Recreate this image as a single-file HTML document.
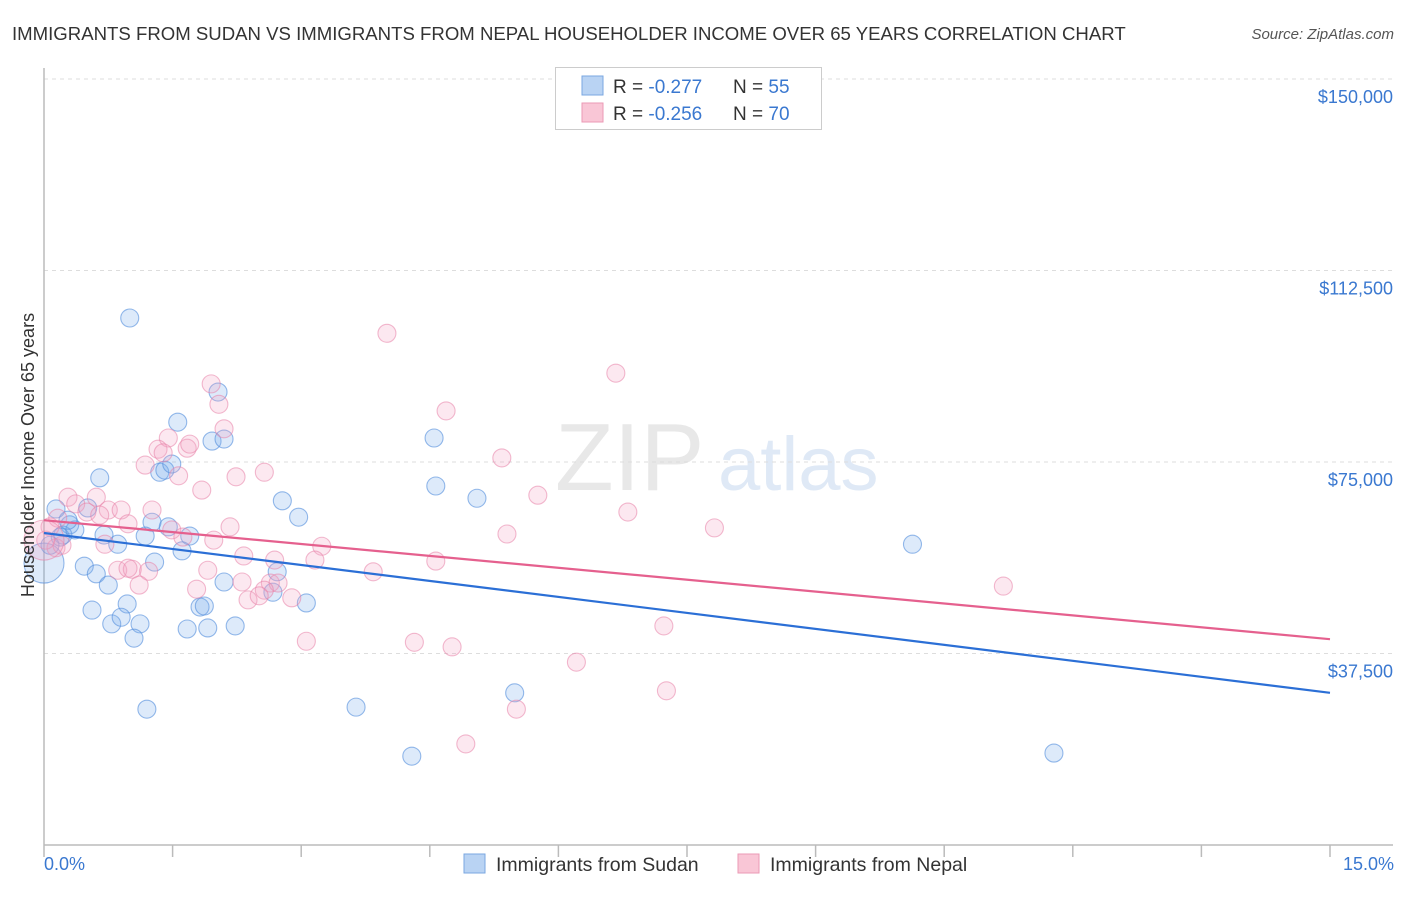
<!DOCTYPE html>
<html><head><meta charset="utf-8"><style>
body{margin:0;background:#fff;font-family:"Liberation Sans",sans-serif}
svg text{font-family:"Liberation Sans",sans-serif}
</style></head><body>
<svg id="chart" width="1406" height="892">
<text x="12" y="40" font-size="18.6" fill="#333">IMMIGRANTS FROM SUDAN VS IMMIGRANTS FROM NEPAL HOUSEHOLDER INCOME OVER 65 YEARS CORRELATION CHART</text>
<text x="1394" y="39" font-size="15" fill="#555" font-style="italic" text-anchor="end">Source: ZipAtlas.com</text>
<g><text x="555" y="490" font-size="96" font-family="Liberation Serif" fill="#e8e8e8">ZIP</text><text x="718" y="490" font-size="76" fill="#dfe9f6">atlas</text></g>
<g id="grid"></g><g id="axes"></g><g id="pts"></g><g id="lines"></g>
<text transform="translate(34,455) rotate(-90)" font-size="18" fill="#333" text-anchor="middle">Householder Income Over 65 years</text>
<text x="44" y="870" font-size="18" fill="#3a78d0">0.0%</text>
<text x="1394" y="870" font-size="18" fill="#3a78d0" text-anchor="end">15.0%</text>
<g>
<rect x="555.5" y="67.5" width="266" height="62" fill="#fff" stroke="#ccc"/>
<rect x="582" y="76" width="21" height="19" fill="#b9d3f3" stroke="#7aa7e0"/>
<rect x="582" y="103" width="21" height="19" fill="#f9c6d6" stroke="#eb9ab5"/>
<text x="613" y="93" font-size="19" fill="#333">R = <tspan fill="#3a78d0">-0.277</tspan><tspan x="733">N = </tspan><tspan fill="#3a78d0">55</tspan></text>
<text x="613" y="120" font-size="19" fill="#333">R = <tspan fill="#3a78d0">-0.256</tspan><tspan x="733">N = </tspan><tspan fill="#3a78d0">70</tspan></text>
</g>
<g>
<rect x="464" y="854" width="21" height="19" fill="#b9d3f3" stroke="#7aa7e0"/>
<text x="496" y="871" font-size="19.5" fill="#333">Immigrants from Sudan</text>
<rect x="738" y="854" width="21" height="19" fill="#f9c6d6" stroke="#eb9ab5"/>
<text x="770" y="871" font-size="19.5" fill="#333">Immigrants from Nepal</text>
</g>
</svg>
<script>
const yTicks=[37500,75000,112500,150000];
const yTickLabels=["$37,500","$75,000","$112,500","$150,000"];
const xTicks=[0,1.5,3,4.5,6,7.5,9,10.5,12,13.5,15];
const sudanX=[1.00,1.56,2.03,1.96,2.10,0.65,1.35,1.41,1.49,0.14,0.30,0.51,0.22,1.26,1.45,1.70,1.18,0.86,0.70,1.29,1.61,0.47,0.61,0.75,0.97,0.56,0.79,0.90,1.12,1.05,1.67,1.82,1.87,1.91,2.23,2.10,2.78,2.97,2.72,2.67,3.06,1.20,3.64,4.29,4.55,4.57,5.05,5.49,10.13,11.78,0,0.19,0.36,0.07,0.28];
const sudanY=[103.2,82.8,88.7,79.1,79.5,71.9,73.0,73.4,74.6,65.8,62.7,66.0,60.7,63.2,62.3,60.5,60.5,58.9,60.7,55.4,57.6,54.6,53.1,50.9,47.2,46.0,43.3,44.6,43.3,40.5,42.3,46.6,46.8,42.5,42.9,51.5,67.4,64.2,53.5,49.5,47.4,26.6,27.0,17.4,79.7,70.3,67.9,29.8,58.9,18.0,55.2,60.3,61.7,58.7,63.6];
const sudanBig=[50];
const nepalX=[4.00,6.67,4.69,1.95,2.04,2.10,1.45,1.33,1.39,1.67,1.70,1.18,1.57,1.84,2.24,2.57,5.34,5.76,6.81,7.82,5.40,11.19,0.28,0.61,0.37,0.50,0.75,0.90,0.98,1.26,1.49,1.62,1.98,2.17,0.65,0.16,0.07,0.14,0.21,0.02,0.71,0.86,1.03,0.98,1.22,1.11,1.78,1.91,2.33,2.69,3.24,3.16,3.84,4.57,2.31,2.64,2.73,2.57,2.38,2.51,2.89,3.06,4.32,4.76,6.21,7.23,7.26,4.92,5.51,0];
const nepalY=[100.2,92.4,85.0,90.3,86.3,81.5,79.7,77.5,76.8,77.7,78.5,74.4,72.3,69.5,72.1,73.0,75.8,68.5,65.2,62.1,60.9,50.7,68.1,68.1,66.8,65.2,65.6,65.6,62.9,65.6,61.7,60.3,59.7,62.3,64.6,64.0,62.3,58.2,58.7,59.7,58.9,53.8,54.0,54.2,53.6,50.9,50.1,53.8,56.6,55.8,58.5,55.8,53.5,55.6,51.5,51.3,51.3,49.9,48.0,48.8,48.4,39.9,39.7,38.8,35.8,42.9,30.2,19.8,26.6,59.7];
const nepalBig=[69];
const trendX=[0,15];
const sudanTrend=[61.1,29.8];
const nepalTrend=[63.6,40.3];
const X0=44,X1=1330,Y0=845,YPER=191.5/37500;
const sx=v=>X0+(X1-X0)*v/15;
const sy=v=>Y0-v*YPER;
const NS="http://www.w3.org/2000/svg";
function mk(tag,attrs,parent){const e=document.createElementNS(NS,tag);for(const k in attrs)e.setAttribute(k,attrs[k]);document.getElementById(parent).appendChild(e);return e;}
yTicks.forEach((t,i)=>{
 const l=mk('line',{x1:X0,x2:1393,y1:sy(t),y2:sy(t),stroke:'#ddd','stroke-dasharray':'4,4'},'grid');
 
 
 const tx=mk('text',{x:1393,y:sy(t)+24,'font-size':18,fill:'#3a78d0','text-anchor':'end'},'grid');
 tx.textContent=yTickLabels[i];
 
 
});
const ax=mk('line',{x1:X0,x2:X0,y1:68,y2:Y0,stroke:'#bbb','stroke-width':1.5},'axes');


const bx=mk('line',{x1:X0,x2:1393,y1:Y0,y2:Y0,stroke:'#bbb','stroke-width':1.5},'axes');


xTicks.forEach(t=>{
 const k=mk('line',{x1:sx(t),x2:sx(t),y1:Y0,y2:Y0+12,stroke:'#bbb','stroke-width':1.5},'axes');
 
 
});
function dots(xs,ys,big,fill,stroke,name){
 xs.forEach((x,i)=>{
  const c=mk('circle',{cx:sx(x),cy:sy(ys[i]*1000),r:big.includes(i)?20:9,fill:fill,stroke:stroke,'stroke-width':1.1},'pts');
  
  
 });
}
dots(sudanX,sudanY,sudanBig,'rgba(120,170,235,0.25)','rgba(80,140,220,0.6)','sudan-point');
dots(nepalX,nepalY,nepalBig,'rgba(245,165,195,0.25)','rgba(232,130,168,0.55)','nepal-point');
const t1=mk('line',{x1:sx(trendX[0]),x2:sx(trendX[1]),y1:sy(sudanTrend[0]*1000),y2:sy(sudanTrend[1]*1000),stroke:'#2b6fd6','stroke-width':2.2},'lines');


const t2=mk('line',{x1:sx(trendX[0]),x2:sx(trendX[1]),y1:sy(nepalTrend[0]*1000),y2:sy(nepalTrend[1]*1000),stroke:'#e5608e','stroke-width':2.2},'lines');


</script>
</body></html>
